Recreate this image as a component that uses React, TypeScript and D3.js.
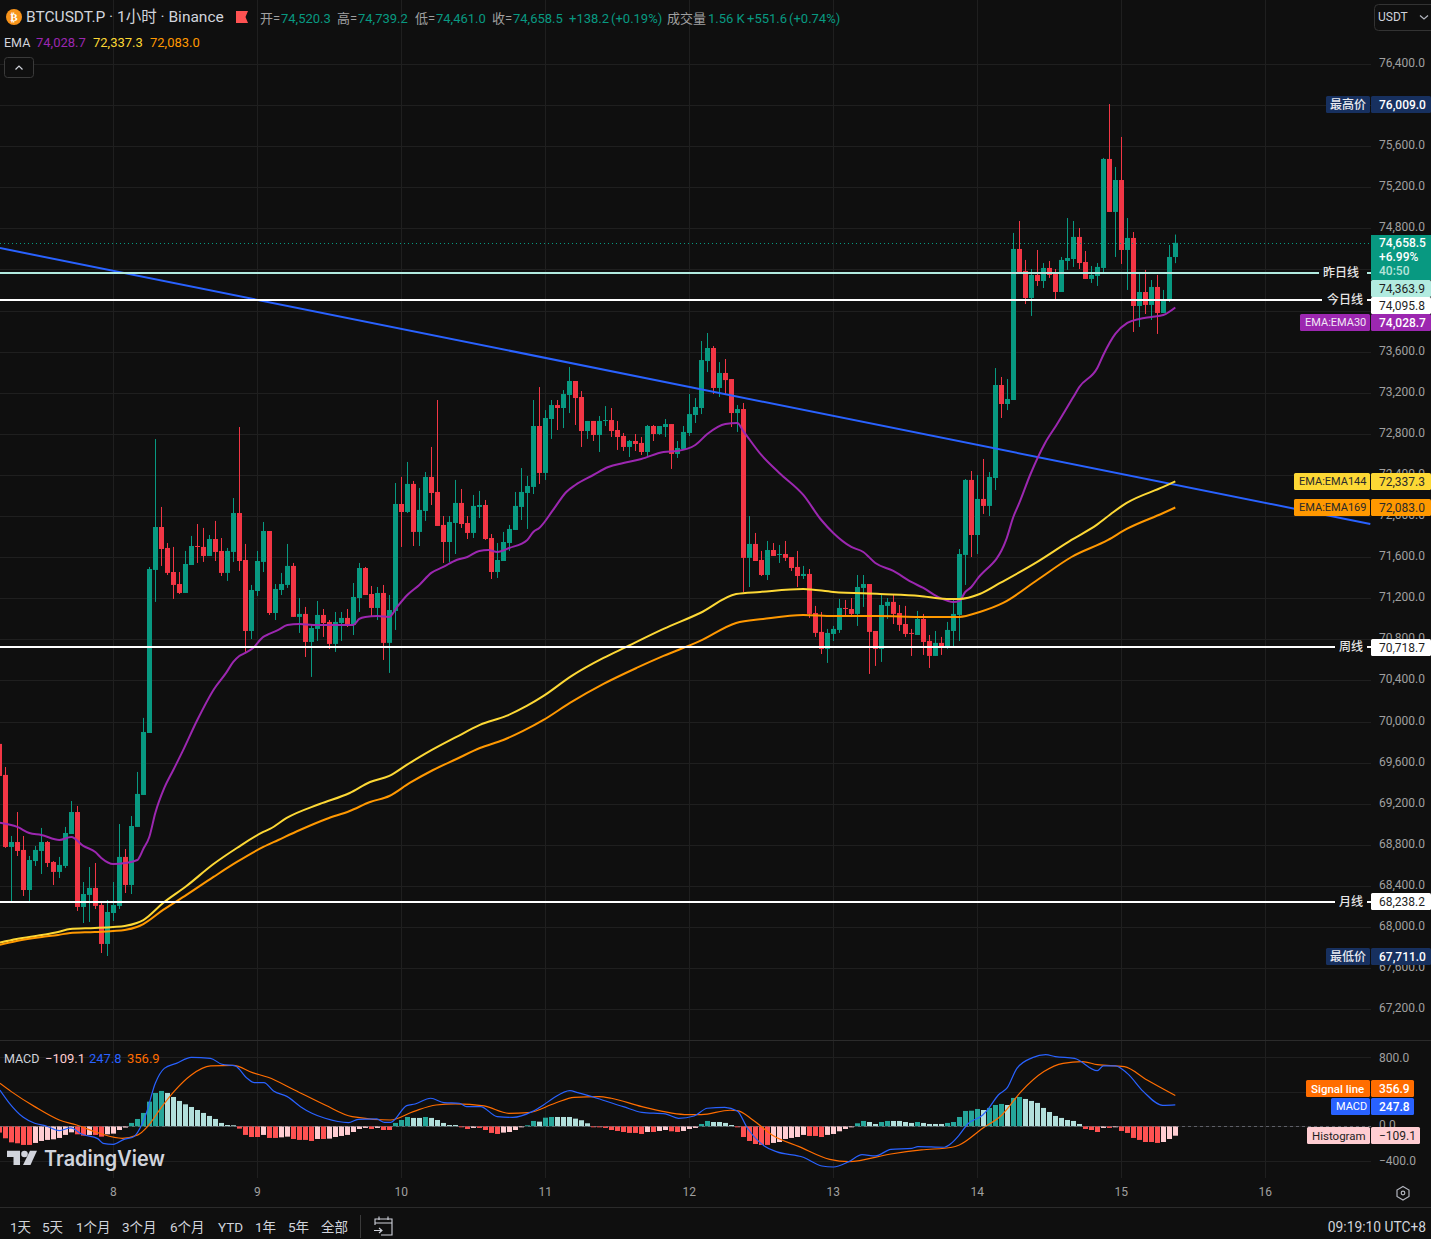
import React from "react";
import * as d3 from "d3";

const FIRST_HOUR = -19;
const opens = [69782,69480,68779,68827,68750,68360,68642,68740,68827,68633,68536,68594,68905,69119,68195,68312,68380,68214,67835,
68136,68205,68682,68409,68974,69285,69888,71475,71893,71689,71455,71338,71251,71523,71708,71699,71611,71776,71660,71446,71650,72029,71572,70881,
71270,71553,71854,71056,71280,71329,71514,71018,71047,70774,70901,71037,70969,70755,70959,71008,70940,71202,71494,71241,71105,71251,70765,71076,
72117,72039,72312,71845,72049,72380,72234,71913,71747,71932,72127,71932,71835,72088,72107,71786,71455,71562,71737,71864,72088,72224,72283,72876,
72419,72944,73080,73051,73178,73314,73158,72827,72925,72788,72925,72934,72837,72779,72672,72730,72711,72623,72876,72798,72866,72895,72604,72652,
72808,72983,73051,73508,73635,73246,73392,73333,73002,73041,71592,71728,71572,71426,71669,71621,71630,71601,71504,71416,71436,71056,70872,70706,
70852,70891,71105,71095,71047,71300,71338,70881,70706,71125,71164,71056,70949,70862,70842,70998,70784,70638,70765,70716,70881,71037,71621,72351,
71815,72166,72098,72370,73275,73090,73129,74599,74385,74122,74346,74287,74414,74355,74180,74482,74501,74716,74472,74307,74336,74414,75475,74959,
75270,74589,74706,74044,74180,74054,74229,73976,74102,74520.3];
const highs = [69820,69557,68886,69119,68886,68691,68789,68964,68837,68642,68682,68974,69226,69178,68438,68584,68623,68244,68263,
68438,69002,68759,69080,69509,70035,71504,72749,72088,71737,71699,71455,71660,71806,71922,71884,71815,71952,71786,71689,72175,72866,71728,71329,
71660,71942,71854,71338,71446,71728,71543,71202,71115,70949,71173,71095,70988,71066,71066,71095,71348,71543,71504,71319,71309,71329,71231,72321,
72380,72526,72341,72273,72428,72672,73129,72000,72000,72351,72263,72000,72205,72244,72156,71825,71737,71845,71913,72234,72467,72390,73129,73255,
73031,73129,73129,73226,73450,73314,73216,72925,72925,72973,73070,73051,72925,72808,72740,72798,72769,72886,72886,72876,72944,72895,72730,72876,
73187,73148,73703,73781,73654,73498,73528,73333,73080,73100,72000,71835,71660,71757,71737,71718,71757,71601,71660,71514,71484,71125,71066,70901,
70930,71193,71183,71202,71426,71426,71338,70881,71231,71202,71241,71134,71125,70901,71076,71047,70842,70881,70823,70969,71193,71679,72360,72438,
72399,72555,72428,73440,73353,73333,74755,74871,74492,74404,74589,74462,74482,74404,74521,74900,74871,74803,74579,74433,74462,75485,76009,75397,
75689,74900,74764,74365,74395,74297,74346,74200,74638,74739.2];
const lows = [69450,68770,68234,68691,68302,68253,68594,68516,68584,68409,68477,68574,68905,68156,68039,68049,68175,67747,67718,
68059,68175,68331,68321,68974,69285,69888,71164,71514,71426,71193,71241,71251,71523,71543,71553,71611,71562,71416,71368,71553,71465,70677,70803,
71222,71455,71037,70988,71231,71300,71018,70862,70628,70434,70784,70823,70706,70677,70784,70920,70842,71066,71231,71018,70988,70599,70473,70891,
71699,72029,71708,71708,71952,72107,71903,71543,71553,71630,71884,71776,71786,71981,71767,71387,71397,71562,71660,71864,71961,71874,72214,72312,
72351,72750,72837,72856,73002,72886,72672,72750,72730,72623,72876,72769,72643,72633,72574,72633,72594,72584,72730,72788,72769,72458,72565,72652,
72779,72905,72992,73401,73187,73158,73178,72866,72818,71261,71309,71562,71416,71377,71611,71543,71562,71465,71309,71387,71008,70823,70657,70570,
70784,70862,71018,71027,70930,71115,70463,70541,70580,70998,70949,70881,70823,70638,70842,70648,70521,70638,70648,70706,70726,70784,71329,71601,
71630,72020,72000,72253,72954,73031,73129,74375,74063,73947,74239,74219,74317,74112,74180,74395,74424,74404,74307,74268,74239,74365,74959,74521,
74453,74200,73791,73840,73966,73908,73772,73976,74083,74461];
const closes = [69470,68779,68827,68740,68360,68652,68750,68827,68623,68536,68604,68915,69119,68195,68321,68380,68205,67835,68146,
68214,68682,68409,68983,69295,69898,71484,71893,71679,71446,71329,71251,71533,71708,71699,71611,71776,71650,71446,71660,72029,71562,70881,71280,
71562,71854,71056,71290,71338,71514,71018,71047,70774,70910,71037,70959,70755,70969,71008,70940,71212,71494,71231,71105,71251,70765,71085,72117,
72039,72312,71845,72059,72380,72224,71903,71747,71942,72127,71922,71835,72098,72107,71776,71455,71572,71747,71874,72098,72234,72292,72876,72419,
72954,73080,73051,73187,73314,73148,72827,72925,72788,72925,72934,72827,72769,72672,72730,72701,72623,72876,72798,72876,72895,72604,72662,72818,
72992,73061,73518,73635,73246,73392,73323,73002,73041,71592,71728,71562,71426,71669,71611,71630,71592,71494,71416,71436,71047,70862,70706,70862,
70901,71105,71095,71047,71309,71338,70872,70706,71134,71164,71047,70940,70852,70852,70998,70774,70638,70765,70716,70891,71047,71630,72351,71815,
72166,72098,72380,73275,73090,73139,74599,74375,74122,74346,74287,74414,74346,74180,74492,74511,74716,74462,74307,74346,74424,75475,74959,75270,
74589,74706,74044,74180,74054,74229,73976,74112,74521,74658.5];

const ema30Hours = [-19,-16,-14,-12,-9,-7,-5,-3,-2,0,2,4,5,6,7,8.5,10,11.5,14,16.8,18.8,20,21,22,23.3,25,26,27.5,29,31,33.3,40,41,42,44,46,47.3,49,51,53,55,57.2,59,61,62.5,64,66,69,70,71,73.3,75.5,77,80,82.5,85,88,91.7,94,97,99,102,104,105,108,111,115,118,120,123,125,127,130,133,135,137.8,140,141,142,143,144,148.8,150,151,152.8,155.3,157.2,160,161,164,165,167,169,171,173,175,177];
const ema30Values = [69015,68974,68915,68896,68847,68876,68789,68730,68672,68613,68623,68652,68759,68876,69110,69353,69528,69704,70015,70317,70473,70580,70638,70667,70716,70823,70852,70891,70940,70949,70940,70940,70998,71018,71027,71018,71115,71231,71329,71446,71504,71572,71601,71660,71669,71650,71689,71767,71845,71884,72059,72234,72302,72399,72477,72516,72555,72623,72633,72691,72798,72895,72905,72827,72594,72419,72205,71961,71835,71699,71650,71543,71465,71358,71300,71202,71164,71173,71261,71309,71387,71767,71990,72127,72399,72711,72886,73158,73255,73440,73567,73772,73879,73918,73937,73956,74028.7];
const ema144Hours = [-19,-16.1,-11.9,-9.2,-7.2,-3.1,0,1.9,3.9,5,8.3,12.2,16.7,20.6,25,26.1,28.9,34.4,39.4,42.8,46,48.9,52.8,57.2,61.1,65.5,68.9,71.7,76.4,81.7,85.5,91.7,97.8,103.8,107.8,115,120,127.8,134.4,138.9,141,144.4,147.8,154,159.7,163.9,166.7,168.9,175,177];
const ema144Values = [67847,67883,67922,67951,67980,67990,68000,68010,68039,68068,68234,68399,68613,68769,68925,68954,69061,69197,69304,69411,69470,69577,69713,69850,69967,70054,70151,70249,70444,70619,70726,70901,71056,71241,71261,71290,71261,71241,71222,71193,71193,71241,71348,71553,71767,71913,72039,72127,72283,72337.3];
const ema169Hours = [-19,-16.1,-11.9,-9.2,-7.2,-3.1,0,1.9,3.9,5,8.3,12.2,16.7,20.6,25,27.5,31.1,35.5,39.4,42.8,46,49.4,53.3,57.2,61.1,65,68.3,71.7,76.1,81.7,87.2,91.7,97.8,103.8,108.3,115,120,127.8,134.4,138.9,141,144.4,148.3,154,159.7,165.8,168.9,175,177];
const ema169Values = [67825,67864,67903,67922,67942,67951,67961,67971,68000,68029,68166,68312,68487,68633,68779,68847,68944,69051,69129,69216,69275,69402,69528,69635,69742,69820,69908,70015,70181,70366,70521,70638,70784,70959,70998,71037,71027,71027,71018,71018,71018,71066,71154,71377,71601,71767,71874,72029,72083];

const histogram = [-73,-139,-186,-197,-216,-216,-193,-170,-158,-151,-135,-100,-70,-93,-108,-100,-100,-120,-93,
-85,-43,-15,39,85,155,286,386,410,386,340,294,255,224,189,155,120,85,39,15,12,-27,-100,-124,
-124,-100,-135,-135,-128,-120,-147,-158,-158,-170,-147,-147,-143,-124,-112,-100,-66,-31,-19,-31,-19,-43,-43,39,
73,108,97,97,108,97,73,39,15,15,-4,-31,-19,-19,-43,-77,-89,-73,-66,-43,-12,12,62,54,
100,108,108,108,108,89,70,35,-4,-12,-19,-43,-54,-66,-77,-77,-89,-66,-66,-54,-43,-58,-66,-54,
-31,-19,27,62,50,50,39,15,-12,-124,-170,-205,-216,-216,-193,-182,-147,-135,-124,-100,-112,-112,-124,-100,
-89,-58,-31,-12,35,62,50,27,50,62,62,62,50,39,50,39,27,27,27,39,50,108,178,181,
201,189,213,247,259,247,329,340,317,294,271,213,166,120,97,73,62,27,-31,-43,-66,-19,-19,-8,
-54,-77,-135,-158,-182,-182,-193,-182,-147,-109.1];

const macdHours = [-18.9,-17.3,-15,-13.1,-11.2,-9,-7.1,-5.2,-2.6,-1.7,0,1.8,3.4,5.4,7,8.5,10.5,13,16.2,18.1,20.3,22.3,23.5,25.1,26.7,29,31.2,33.1,35.3,39.2,40.8,43.9,45.2,46.2,48.9,50.3,52.9,55.1,57.7,58.9,61.2,64,66.6,69.8,71.7,73.3,76.1,77.4,80.6,85,88.1,92,94.2,96.8,99,101.9,104,105.7,108.5,110.5,115,118.1,120,122.6,124.8,127,129.6,133.1,134.1,138.5,139.8,141,142.4,144.9,145.9,147.5,149,150.6,153.2,155.4,157,160.2,164,165,167,169,171.7,174.9,177];
const macdValues = [421,267,104,35,4,-50,-19,-93,-143,-197,-209,-151,-120,131,499,672,730,800,788,719,700,557,506,506,410,344,228,151,93,43,81,85,46,46,240,259,325,274,267,228,228,112,104,170,247,325,414,390,325,228,162,143,93,120,209,220,178,-23,-228,-294,-359,-460,-472,-410,-329,-344,-267,-255,-236,-243,-189,-100,27,131,209,363,448,672,796,831,808,788,645,700,700,614,402,243,247.8];
const signalHours = [-18.9,-17,-13.1,-9,-6.1,-2.3,1.5,4.1,5.7,7.9,10.1,13,16.2,20,23.2,25.8,30.2,35.3,39.8,46.2,50,53.8,57,61.8,65.9,69.1,73.6,76.8,81,83,88.1,95.8,98,102.8,104,106.6,109.8,114.3,119.4,122.6,129.6,134.7,139.8,141,144.9,148.1,151.3,155.1,158.3,161.5,164,168.5,172.3,177];
const signalValues = [499,402,228,73,15,-81,-139,-100,-4,209,402,595,700,707,622,568,421,247,112,73,170,247,259,236,151,158,267,336,344,325,228,135,135,186,182,73,-100,-236,-383,-410,-321,-274,-243,-216,-23,131,402,634,730,750,715,692,537,356.9];

const trendHours = [-18.9, 209.5];
const trendPrices = [74608, 71922];
const dayLabels = [8, 9, 10, 11, 12, 13, 14, 15, 16];
const macdTicks = [800, 400, 0, -400];
const rangeLabels = ["1天", "5天", "1个月", "3个月", "6个月", "YTD", "1年", "5年", "全部"];
const rangeLabelX = [10, 42, 76, 122, 170, 218, 255, 288, 321];

const FONT = 'Roboto, "Noto Sans CJK SC", sans-serif';
const GREEN = "#089981";
const RED = "#f23645";
const GRID = "#1f1f1f";
const AXIS = "#a0a0a0";
const TEXT = "#d1d4dc";
const PLOT_R = 1371;

const x = d3.scaleLinear().domain([0, 168]).range([113.3, 1121.3]);
const y = d3.scaleLinear().domain([74800, 67200]).range([228.3, 1009.2]);
const my = d3.scaleLinear().domain([800, -400]).range([1057.3, 1160.8]);
const fmt = d3.format(",.1f");

const priceTicks = d3.range(67200, 76401, 400);

const pathOf = (hs: number[], vs: number[], sy: (v: number) => number, smooth = true) => {
  const l = d3.line<number>().x((h) => x(h)).y((_, i) => sy(vs[i]));
  if (smooth) l.curve(d3.curveMonotoneX);
  return l(hs) as string;
};

function T(p: any) {
  const { x: tx, y: ty, c = TEXT, s = 12, w = 400, a = "start", children, ...rest } = p;
  return (
    <text x={tx} y={ty} fill={c} fontSize={s} fontWeight={w} textAnchor={a} dominantBaseline="central" fontFamily={FONT} {...rest}>
      {children}
    </text>
  );
}

function Tag(p: { top: number; h?: number; x0: number; x1: number; fill: string; c: string; text: string; weight?: number; tx?: number; s?: number }) {
  const h = p.h ?? 17;
  return (
    <g>
      <rect x={p.x0} y={p.top} width={p.x1 - p.x0} height={h} fill={p.fill} rx={1.5} />
      <T x={p.tx ?? p.x0 + 8} y={p.top + h / 2} c={p.c} w={p.weight ?? 500} s={p.s ?? 12}>{p.text}</T>
    </g>
  );
}

function Level(p: { v: number; x1: number; c: string }) {
  const ly = Math.floor(y(p.v));
  return (
    <g stroke={p.c} strokeWidth={2}>
      <line x1={0} x2={p.x1} y1={ly} y2={ly} />
      <line x1={1367} x2={1371} y1={ly} y2={ly} />
    </g>
  );
}

function Candles() {
  return (
    <g>
      {opens.map((o, i) => {
        const h = FIRST_HOUR + i;
        const c = closes[i];
        const col = c >= o ? GREEN : RED;
        const cx = Math.floor(x(h));
        const top = y(Math.max(o, c));
        const bot = y(Math.min(o, c));
        return (
          <g key={i} fill={col}>
            <rect x={cx} y={y(highs[i])} width={1} height={Math.max(1, y(lows[i]) - y(highs[i]))} />
            <rect x={cx - 2} y={top} width={5} height={Math.max(1, bot - top)} />
          </g>
        );
      })}
    </g>
  );
}

function Hist() {
  return (
    <g>
      {histogram.map((v, i) => {
        const h = FIRST_HOUR + i;
        const prev = i > 0 ? histogram[i - 1] : v;
        const col = v >= 0 ? (v > prev ? "#26a69a" : "#b2dfdb") : v > prev ? "#ffcdd2" : "#ff5252";
        const t = Math.min(my(0), my(v));
        return <rect key={i} x={Math.floor(x(h)) - 2} y={t} width={5} height={Math.max(1, Math.abs(my(v) - my(0)))} fill={col} />;
      })}
    </g>
  );
}

export default function App() {
  const lastY = Math.round(y(74658.5)) + 0.5;
  return (
    <svg width={1431} height={1239} style={{ position: "fixed", left: 0, top: 0, display: "block", background: "#0f0f0f" }}>
      <defs>
        <clipPath id="mainClip"><rect x={0} y={0} width={PLOT_R} height={1040} /></clipPath>
        <clipPath id="macdClip"><rect x={0} y={1041} width={PLOT_R} height={137} /></clipPath>
      </defs>
      <rect width={1431} height={1239} fill="#0f0f0f" />

      {/* grid */}
      {priceTicks.map((p) => (
        <line key={p} x1={0} x2={PLOT_R} y1={Math.round(y(p)) + 0.5} y2={Math.round(y(p)) + 0.5} stroke={GRID} />
      ))}
      {macdTicks.map((p) => (
        <line key={p} x1={0} x2={PLOT_R} y1={Math.round(my(p)) + 0.5} y2={Math.round(my(p)) + 0.5} stroke={GRID} />
      ))}
      {dayLabels.map((d) => {
        const vx = Math.floor(x((d - 8) * 24)) + 0.5;
        return <line key={d} x1={vx} x2={vx} y1={0} y2={1178} stroke={GRID} />;
      })}
      <line x1={0} x2={1431} y1={1040.5} y2={1040.5} stroke="#2b2b2b" />
      <line x1={0} x2={1431} y1={1207.5} y2={1207.5} stroke="#2b2b2b" />

      {/* price axis labels */}
      {priceTicks.map((p) => (
        <T key={p} x={1379} y={y(p) - 1} c={AXIS}>{fmt(p)}</T>
      ))}

      <g clipPath="url(#mainClip)">
        <Candles />
        <line x1={0} x2={PLOT_R} y1={lastY} y2={lastY} stroke={GREEN} strokeDasharray="1 3" />
        <path d={pathOf(trendHours, trendPrices, y, false)} fill="none" stroke="#2962ff" strokeWidth={2} />
        <path d={pathOf(ema30Hours, ema30Values, y)} fill="none" stroke="#9c27b0" strokeWidth={2} />
        <path d={pathOf(ema144Hours, ema144Values, y)} fill="none" stroke="#fdd835" strokeWidth={2} />
        <path d={pathOf(ema169Hours, ema169Values, y)} fill="none" stroke="#ff9800" strokeWidth={2} />
        <Level v={74363.9} x1={1319} c="#b2ebe0" />
        <Level v={74095.8} x1={1322} c="#ffffff" />
        <Level v={70718.7} x1={1335} c="#ffffff" />
        <Level v={68238.2} x1={1335} c="#ffffff" />
      </g>
      <T x={1323} y={272.5} c="#e6e6e6" w={500}>昨日线</T>
      <T x={1327} y={299.5} c="#e6e6e6" w={500}>今日线</T>
      <T x={1339} y={647} c="#e6e6e6" w={500}>周线</T>
      <T x={1339} y={901.5} c="#e6e6e6" w={500}>月线</T>

      {/* MACD */}
      <g clipPath="url(#macdClip)">
        <Hist />
        <path d={pathOf(signalHours, signalValues, my)} fill="none" stroke="#ff6d00" strokeWidth={1.2} />
        <path d={pathOf(macdHours, macdValues, my)} fill="none" stroke="#2962ff" strokeWidth={1.2} />
        <line x1={0} x2={PLOT_R} y1={Math.round(my(0)) + 0.5} y2={Math.round(my(0)) + 0.5} stroke="#787b86" strokeOpacity={0.7} strokeDasharray="3 3" />
      </g>
      <T x={1379} y={1058} c={AXIS}>800.0</T>
      <T x={1379} y={1125} c={AXIS}>0.0</T>
      <T x={1379} y={1161} c={AXIS}>−400.0</T>

      {/* right tags */}
      <Tag top={96} x0={1326} x1={1370} fill="#17305f" c="#e8eaf0" text="最高价" tx={1330} />
      <Tag top={96} x0={1371} x1={1431} fill="#17305f" c="#ffffff" text="76,009.0" tx={1379} />

      <rect x={1371} y={235} width={60} height={45} fill={GREEN} />
      <T x={1379} y={243} c="#ffffff" w={500}>74,658.5</T>
      <T x={1379} y={257} c="#ffffff" w={500}>+6.99%</T>
      <T x={1379} y={271} c="#b5e3d9" w={500}>40:50</T>
      <Tag top={280} x0={1371} x1={1431} fill="#b2ebe0" c="#1e1e1e" text="74,363.9" tx={1379} weight={400} />
      <Tag top={297} x0={1371} x1={1431} fill="#ffffff" c="#1e1e1e" text="74,095.8" tx={1379} weight={400} />
      <Tag top={314} x0={1300} x1={1370} fill="#9c27b0" c="#f2e6f5" text="EMA:EMA30" tx={1305} s={11} weight={400} />
      <Tag top={314} x0={1371} x1={1431} fill="#9c27b0" c="#ffffff" text="74,028.7" tx={1379} />

      <Tag top={473} x0={1294} x1={1370} fill="#fdd835" c="#2a2a2a" text="EMA:EMA144" tx={1299} weight={400} s={11} />
      <Tag top={473} x0={1371} x1={1431} fill="#fdd835" c="#2a2a2a" text="72,337.3" tx={1379} weight={400} />
      <Tag top={499} x0={1294} x1={1370} fill="#ff9800" c="#2a2a2a" text="EMA:EMA169" tx={1299} weight={400} s={11} />
      <Tag top={499} x0={1371} x1={1431} fill="#ff9800" c="#2a2a2a" text="72,083.0" tx={1379} weight={400} />

      <Tag top={639} x0={1371} x1={1431} fill="#ffffff" c="#1e1e1e" text="70,718.7" tx={1379} weight={400} />
      <Tag top={893} x0={1371} x1={1431} fill="#ffffff" c="#1e1e1e" text="68,238.2" tx={1379} weight={400} />
      <Tag top={948} x0={1326} x1={1370} fill="#17305f" c="#e8eaf0" text="最低价" tx={1330} />
      <Tag top={948} x0={1371} x1={1431} fill="#17305f" c="#ffffff" text="67,711.0" tx={1379} />

      <Tag top={1080} x0={1306} x1={1370} fill="#ff6d00" c="#ffffff" text="Signal line" tx={1311} s={11.5} />
      <Tag top={1080} x0={1371} x1={1414} fill="#ff6d00" c="#ffffff" text="356.9" tx={1379} />
      <Tag top={1098} x0={1331} x1={1370} fill="#2962ff" c="#ffffff" text="MACD" tx={1336} s={11} weight={400} />
      <Tag top={1098} x0={1371} x1={1414} fill="#2962ff" c="#ffffff" text="247.8" tx={1379} />
      <Tag top={1127} x0={1307} x1={1370} fill="#ffcdd2" c="#1e1e1e" text="Histogram" tx={1312} weight={400} s={11.5} />
      <Tag top={1127} x0={1371} x1={1420} fill="#ffcdd2" c="#1e1e1e" text="−109.1" tx={1379} weight={400} />

      {/* header */}
      <circle cx={14} cy={17} r={8} fill="#f7931a" />
      <text x={14} y={17.5} fontSize={11} fontWeight={700} fill="#fff" textAnchor="middle" dominantBaseline="central" fontFamily="DejaVu Sans">₿</text>
      <T x={26} y={17} s={15.5} c="#d1d4dc">BTCUSDT.P · 1小时 · Binance</T>
      <path d="M236 11 H248 L245.5 17 L248 23 H236 Z" fill="#ff5252" />
      <T x={260} y={18} s={13} c={AXIS}>开=</T>
      <T x={281} y={18} s={13} c={GREEN}>74,520.3</T>
      <T x={337} y={18} s={13} c={AXIS}>高=</T>
      <T x={358} y={18} s={13} c={GREEN}>74,739.2</T>
      <T x={415} y={18} s={13} c={AXIS}>低=</T>
      <T x={436} y={18} s={13} c={GREEN}>74,461.0</T>
      <T x={492} y={18} s={13} c={AXIS}>收=</T>
      <T x={513} y={18} s={13} c={GREEN}>74,658.5</T>
      <T x={569} y={18} s={13} c={GREEN}>+138.2</T>
      <T x={611} y={18} s={13} c={GREEN}>(+0.19%)</T>
      <T x={667} y={18} s={13} c={AXIS}>成交量</T>
      <T x={708} y={18} s={13} c={GREEN}>1.56 K</T>
      <T x={747} y={18} s={13} c={GREEN}>+551.6</T>
      <T x={789} y={18} s={13} c={GREEN}>(+0.74%)</T>

      <T x={4} y={42.5} s={12.5} c="#d1d4dc">EMA</T>
      <T x={36} y={42.5} s={13} c="#9c27b0">74,028.7</T>
      <T x={93} y={42.5} s={13} c="#fdd835">72,337.3</T>
      <T x={150} y={42.5} s={13} c="#ff9800">72,083.0</T>

      <rect x={4.5} y={57.5} width={29} height={20} rx={3} fill="#0f0f0f" stroke="#3a3a3a" />
      <path d="M15.5 69.5 L19 66 L22.5 69.5" fill="none" stroke="#d1d4dc" strokeWidth={1.2} />

      <rect x={1374.5} y={4.5} width={70} height={26} rx={4} fill="#0f0f0f" stroke="#333" />
      <T x={1378} y={17} c="#d1d4dc">USDT</T>
      <path d="M1420 15.5 L1424 19 L1428 15.5" fill="none" stroke="#b2b5be" strokeWidth={1.2} />

      <T x={4} y={1058} s={12.5} c="#d1d4dc">MACD</T>
      <T x={45} y={1058} s={13} c="#ffcdd2">−109.1</T>
      <T x={89} y={1058} s={13} c="#2962ff">247.8</T>
      <T x={127} y={1058} s={13} c="#ff6d00">356.9</T>

      {/* TradingView mark */}
      <g fill="#d1d4dc">
        <path d="M7 1150.7 H20 V1165 H13.5 V1157 H7 Z" />
        <circle cx={24.5} cy={1154} r={3.3} />
        <path d="M30 1150.7 H37 L30.5 1165 H23 Z" />
        <text x={44} y={1158} fontSize={21} fontWeight={600} fontFamily="Inter, Roboto, sans-serif" dominantBaseline="central" textLength={121} lengthAdjust="spacingAndGlyphs">TradingView</text>
      </g>

      {/* time axis */}
      {dayLabels.map((d) => (
        <T key={d} x={x((d - 8) * 24)} y={1192} c={AXIS} a="middle">{d}</T>
      ))}
      <g fill="none" stroke="#b2b5be" strokeWidth={1.2}>
        <path d="M1403 1186.5 L1409 1190 V1196.5 L1403 1200 L1397 1196.5 V1190 Z" />
        <circle cx={1403} cy={1193} r={1.8} />
      </g>

      {/* bottom bar */}
      {rangeLabels.map((l, i) => (
        <T key={l} x={rangeLabelX[i]} y={1227} s={13.5} c="#d1d4dc">{l}</T>
      ))}
      <line x1={360.5} x2={360.5} y1={1215} y2={1238} stroke="#3a3a3a" />
      <g fill="none" stroke="#d1d4dc" strokeWidth={1.1}>
        <path d="M375 1225 V1219 H392 V1235 H381" />
        <path d="M375 1223 H392 M379 1216.5 V1220 M388 1216.5 V1220" />
        <path d="M374 1230.5 H382 M379 1228 L382 1230.5 L379 1233" />
      </g>
      <T x={1426} y={1227} s={13.8} a="end" c="#d1d4dc">09:19:10 UTC+8</T>
    </svg>
  );
}
